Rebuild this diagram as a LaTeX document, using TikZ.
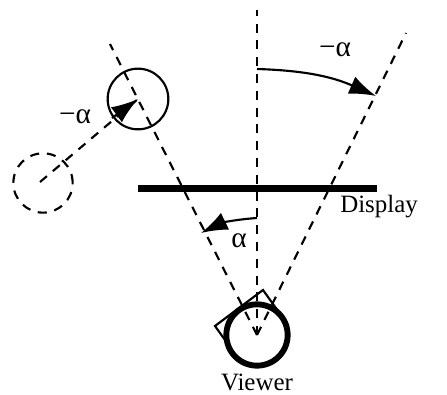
\documentclass[tikz,border=0pt]{standalone}
\usepackage{fontspec}
\setmainfont{Liberation Serif}
\usetikzlibrary{arrows.meta}
\tikzset{
  ray/.style={line width=1.6pt, dash pattern=on 6.8pt off 5.8pt},
  swing/.style={line width=1.6pt, -{Latex[length=20pt,width=14pt]}},
  lbl/.style={inner sep=0pt, font=\fontsize{18.7pt}{20pt}\selectfont},
  greek/.style={inner sep=0pt, font=\fontsize{22pt}{24pt}\selectfont},
}
\begin{document}
\begin{tikzpicture}[x=0.75pt,y=-0.75pt]
\useasboundingbox (0,0) rectangle (447,395);
% key points
\coordinate (eye) at (257,335);
\coordinate (topv) at (257,10);
\coordinate (topr) at (406,33);
\coordinate (topl) at (110,44);
\coordinate (solidc) at (138,99);
\coordinate (dashc) at (40,182);
\coordinate (arcstart) at (257,69);
\coordinate (arcend) at (376,96);
\coordinate (smallstart) at (257,218);
\coordinate (smallend) at (201,233);
\coordinate (displ) at (138,188.5);
\coordinate (dispr) at (377,188.5);
% head box
\draw[line width=1.6pt] (215,326) -- (263,290) -- (288,325) -- (240,361) -- cycle;
% head
\node[circle, draw, fill=white, line width=4.4pt, minimum size=46pt, inner sep=0pt] (head) at (eye) {};
% rays
\draw[ray] (eye) -- (topv);
\draw[ray] (eye) -- (topr);
\draw[ray] (eye) -- (topl);
% object circles
\node[circle, draw, line width=1.6pt, minimum size=45.5pt, inner sep=0pt] (solid) at (solidc) {};
\node[circle, draw, ray, minimum size=44.5pt, inner sep=0pt] (ghost) at (43,183) {};
\draw[ray] (dashc) -- (solidc);
\draw[swing] (112,118) -- (solidc);
% display
\draw[line width=4.6pt] (displ) -- (dispr);
% angle arrows
\draw[swing] (arcstart) to[bend left=11] (arcend);
\draw[swing] (smallstart) to[bend right=11] (smallend);
% labels
\node[greek] (l1) at (335,50) {−α};
\node[greek] (l2) at (75,117) {−α};
\node[greek] (l3) at (239,241) {α};
\node[lbl, anchor=base west] (disp) at (340,213) {Display};
\node[lbl, anchor=base] (view) at (257,391) {Viewer};
\end{tikzpicture}
\end{document}
